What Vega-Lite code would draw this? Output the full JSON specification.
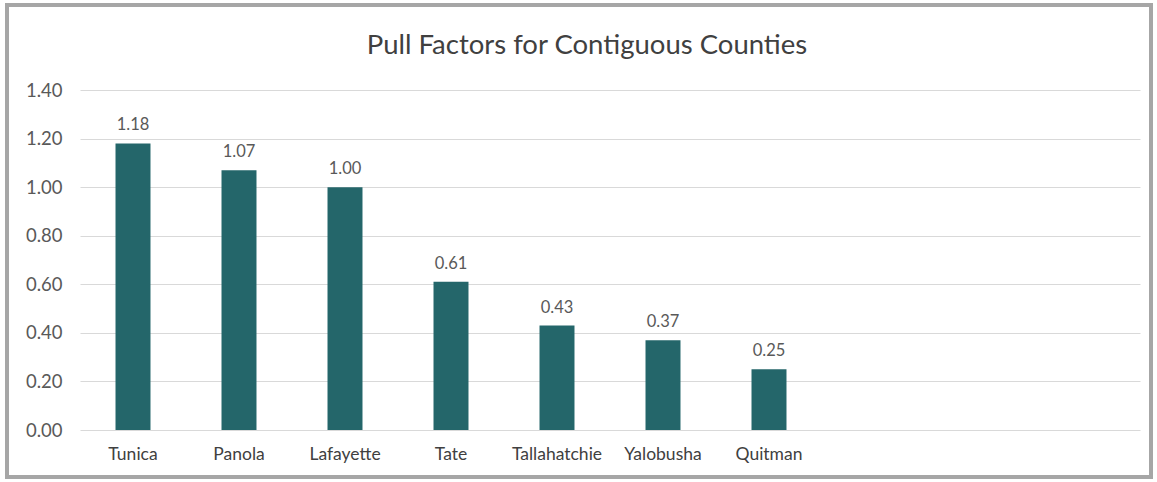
{
  "$schema": "https://vega.github.io/schema/vega-lite/v6.json",
  "width": 1060,
  "height": 340,
  "autosize": "none",
  "padding": {"left": 80, "top": 90, "right": 17, "bottom": 52},
  "background": "white",
  "config": {"view": {"stroke": null}, "font": "Lato"},
  "title": {
    "text": "Pull Factors for Contiguous Counties",
    "fontSize": 27.5,
    "font": "Lato",
    "fontWeight": "normal",
    "color": "#404040",
    "anchor": "middle",
    "baseline": "bottom",
    "dx": -23,
    "offset": -84
  },
  "data": {
    "values": [
      {"county": "Tunica", "pull": 1.18},
      {"county": "Panola", "pull": 1.07},
      {"county": "Lafayette", "pull": 1.0},
      {"county": "Tate", "pull": 0.61},
      {"county": "Tallahatchie", "pull": 0.43},
      {"county": "Yalobusha", "pull": 0.37},
      {"county": "Quitman", "pull": 0.25}
    ]
  },
  "layer": [
    {
      "mark": {"type": "bar", "color": "#24666A"},
      "encoding": {
        "x": {
          "field": "county",
          "type": "nominal",
          "sort": null,
          "scale": {
            "domain": ["Tunica", "Panola", "Lafayette", "Tate", "Tallahatchie", "Yalobusha", "Quitman", " ", "  ", "   "],
            "paddingInner": 0.67,
            "paddingOuter": 0.335
          },
          "axis": {
            "title": null,
            "labelAngle": 0,
            "ticks": false,
            "domain": false,
            "labelFontSize": 17.5,
            "labelColor": "#404040",
            "labelPadding": 15,
            "labelFont": "Lato"
          }
        },
        "y": {
          "field": "pull",
          "type": "quantitative",
          "scale": {"domain": [0, 1.4], "nice": false},
          "axis": {
            "title": null,
            "values": [0, 0.2, 0.4, 0.6, 0.8, 1.0, 1.2, 1.4],
            "format": ".2f",
            "ticks": false,
            "domain": false,
            "labelFontSize": 18.5,
            "labelColor": "#595959",
            "labelPadding": 18,
            "gridColor": "#D9D9D9",
            "gridWidth": 1.2,
            "labelFont": "Lato"
          }
        }
      }
    },
    {
      "mark": {"type": "text", "baseline": "bottom", "dy": -10, "fontSize": 16.5, "color": "#595959", "font": "Lato"},
      "encoding": {
        "x": {"field": "county", "type": "nominal", "sort": null},
        "y": {"field": "pull", "type": "quantitative"},
        "text": {"field": "pull", "type": "quantitative", "format": ".2f"}
      }
    },
    {
      "data": {"values": [{}]},
      "mark": {"type": "rect", "x": -73, "x2": 1071, "y": -85, "y2": 387, "fill": null, "stroke": "#A6A6A6", "strokeWidth": 4},
      "encoding": {}
    }
  ]
}
